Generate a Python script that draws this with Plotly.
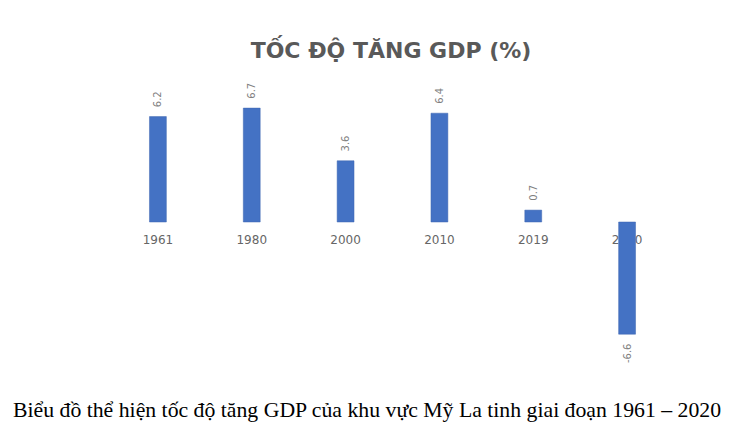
import plotly.graph_objects as go

years = ["1961", "1980", "2000", "2010", "2019", "2020"]
growth = [6.2, 6.7, 3.6, 6.4, 0.7, -6.6]
labels = ["6.2", "6.7", "3.6", "6.4", "0.7", "-6.6"]

title_text = "TỐC ĐỘ TĂNG GDP (%)"
caption = "Biểu đồ thể hiện tốc độ tăng GDP của khu vực Mỹ La tinh giai đoạn 1961 – 2020"

ymin, ymax = -9, 9
W, H = 740, 436
ml, mr, mt, mb = 103, 74, 61, 69
zero_pos = (0 - ymin) / (ymax - ymin)
pw = W - ml - mr
ph = H - mt - mb

# pad labels with non-breaking spaces on the side facing the bar (rotated text)
pad = "\u00a0\u00a0"
shown = [pad + t if v >= 0 else t + pad for t, v in zip(labels, growth)]

fig = go.Figure()
fig.add_trace(go.Bar(
    x=years, y=growth,
    marker=dict(color="#4472C4", line=dict(color="#3F66B0", width=0.5)),
    text=shown, textposition="outside", textangle=-90, constraintext="none",
    textfont=dict(family="DejaVu Sans", size=10, color="#808080"),
    cliponaxis=False,
))

fig.update_layout(
    width=W, height=H,
    margin=dict(l=ml, r=mr, t=mt, b=mb),
    paper_bgcolor="white", plot_bgcolor="white",
    bargap=0.82,
    showlegend=False,
    uniformtext=dict(mode=False),
    title=dict(text=title_text, x=383 / W, xanchor="center", y=1 - 42 / H, yanchor="middle",
               font=dict(family="DejaVu Sans", size=22, color="#595959", weight="bold")),
    xaxis=dict(anchor="free", position=zero_pos, showline=False, ticks="",
               showgrid=False, layer="below traces", ticklabelstandoff=9,
               tickfont=dict(family="DejaVu Sans", size=12, color="#666666")),
    yaxis=dict(range=[ymin, ymax], visible=False, showgrid=False, zeroline=False),
    annotations=[dict(text=caption, xref="paper", yref="paper",
                      x=(358.5 - ml) / pw, y=-(402 - (H - mb)) / ph,
                      xanchor="center", yanchor="middle", showarrow=False,
                      font=dict(family="Liberation Serif", size=21.75, color="black"))],
)

fig.write_html("out.html")
